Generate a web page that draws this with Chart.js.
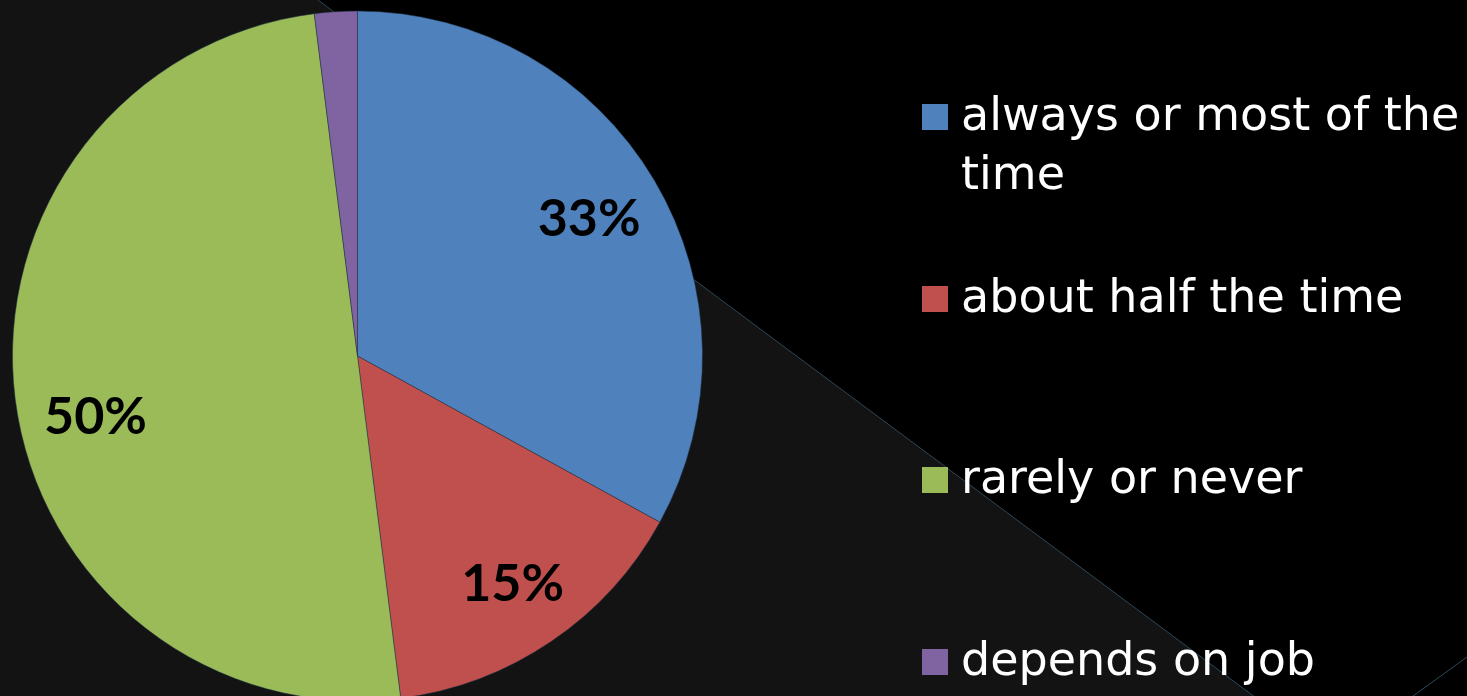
<!DOCTYPE html>
<html>
<head>
<meta charset="utf-8">
<script src="https://cdn.jsdelivr.net/npm/chart.js@4.4.0/dist/chart.umd.min.js"></script>
<style>
    html, body { margin: 0; padding: 0; background: #000; width: 1467px; height: 696px; overflow: hidden; }
    #wrap { position: absolute; left: 0; top: 0; width: 1467px; height: 712px; }
    #legend { position: absolute; left: 0; top: 0; }
    .item { position: absolute; left: 922px; width: 545px; }
    .box { position: absolute; left: 0; top: 19px; width: 26px; height: 26px; }
    .txt { position: absolute; left: 39px; width: 505px; font-family: "DejaVu Sans", sans-serif; font-size: 46px; line-height: 59px; color: #fff; white-space: normal; }
</style>
</head>
<body>
<div id="wrap">
    <canvas id="myChart" width="1467" height="712"></canvas>
</div>
<div id="legend"></div>
<script>
let labels = ["always or most of the time", "about half the time", "rarely or never", "depends on job"];
let values = [33, 15, 50, 2];
let colors = ["#4F81BD", "#C0504D", "#9BBB59", "#8064A2"];

// background: dark gray triangle + thin diagonal lines (slide theme)
let bgPlugin = {
    id: "bg",
    beforeDraw: function(chart){
        let ctx = chart.ctx;
        ctx.save();
        ctx.fillStyle = "#000";
        ctx.fillRect(0, 0, chart.width, chart.height);
        ctx.fillStyle = "#131313";
        ctx.beginPath();
        ctx.moveTo(0, 0);
        ctx.lineTo(318, 0);
        ctx.lineTo(1275, 712);
        ctx.lineTo(0, 712);
        ctx.closePath();
        ctx.fill();
        ctx.strokeStyle = "#2d4858";
        ctx.lineWidth = 1;
        ctx.beginPath();
        ctx.moveTo(318, 0);
        ctx.lineTo(1275, 712);
        ctx.moveTo(1391, 712);
        ctx.lineTo(1467, 657);
        ctx.stroke();
        ctx.restore();
    }
};

// percentage labels inside the slices
let pctPlugin = {
    id: "pct",
    afterDatasetsDraw: function(chart, args, opts){
        let ctx = chart.ctx;
        let meta = chart.getDatasetMeta(0);
        let total = values.reduce(function(a, b){ return a + b; }, 0);
        ctx.save();
        ctx.fillStyle = "#000";
        ctx.font = "bold 52px Lato, sans-serif";
        ctx.textAlign = "center";
        ctx.textBaseline = "middle";
        meta.data.forEach(function(arc, i){
            let pct = values[i] / total * 100;
            if(pct < 5) return;
            let p = arc.getProps(["x", "y", "startAngle", "endAngle", "outerRadius"], true);
            let mid = (p.startAngle + p.endAngle) / 2 + (opts.shift[i] || 0) * Math.PI / 180;
            let r = p.outerRadius * (opts.dist[i] || 0.78);
            ctx.fillText(Math.round(pct) + "%", p.x + Math.cos(mid) * r, p.y + Math.sin(mid) * r);
        });
        ctx.restore();
    }
};

let ctx = document.getElementById("myChart").getContext("2d");
let myChart = new Chart(ctx, {
    type: "pie",
    data: {
        labels: labels,
        datasets: [{
            data: values,
            backgroundColor: colors,
            borderColor: "rgba(30,50,70,0.5)",
            borderWidth: 1
        }]
    },
    options: {
        responsive: false,
        animation: false,
        devicePixelRatio: 1,
        layout: { padding: { left: 12, top: 10, right: 764, bottom: 10 } },
        plugins: {
            legend: { display: false },
            tooltip: { enabled: false },
            pct: { shift: [0, 0, -6, 0], dist: [0.78, 0.8, 0.78, 0.78] }
        }
    },
    plugins: [bgPlugin, pctPlugin]
});

// legend on the right
let _legend = document.getElementById("legend");
for(let i = 0; i < labels.length; i++)
{
    let item = document.createElement("div");
    item.className = "item";
    item.style.top = (85 + i * 181.7) + "px";
    let box = document.createElement("div");
    box.className = "box";
    box.style.background = colors[i];
    let txt = document.createElement("div");
    txt.className = "txt";
    txt.textContent = labels[i];
    item.appendChild(box);
    item.appendChild(txt);
    _legend.appendChild(item);
}
</script>
</body>
</html>
